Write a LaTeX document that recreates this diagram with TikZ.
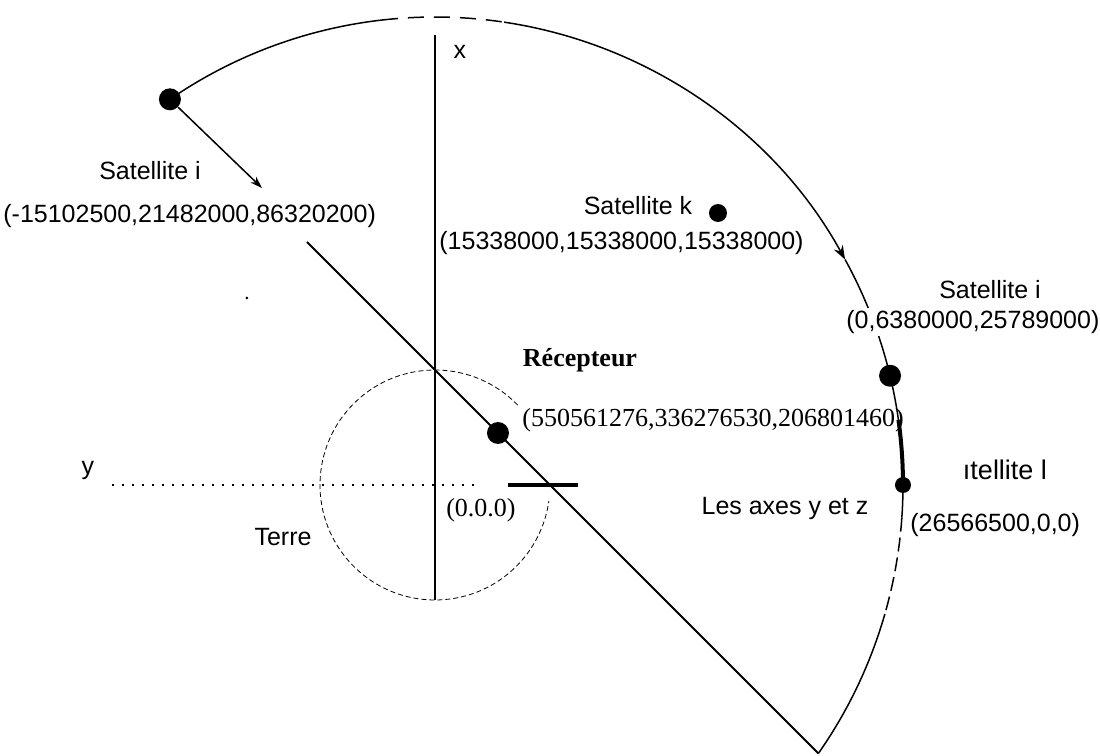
\documentclass[tikz,border=0pt]{standalone}
\usepackage{fontspec}
\setmainfont{Liberation Sans}
\newfontfamily\recfont{Liberation Serif}
\usetikzlibrary{positioning, arrows.meta}

\begin{document}
\begin{tikzpicture}[x=0.5pt, y=0.5pt,
    sat/.style={circle, fill=black, inner sep=0pt, minimum size=#1},
    lbl/.style={font=\fontsize{12.5}{14}\selectfont, inner sep=1pt},
    rlbl/.style={font=\recfont\fontsize{13}{15}\selectfont, inner sep=1pt},
    orbit/.style={line width=0.75pt},
    earth/.style={line width=0.4pt, dash pattern=on 2.5pt off 1.5pt},
    arr/.style={-{Stealth[length=6pt, width=4pt]}, line width=0.75pt},
]
\useasboundingbox (-435,-271) rectangle (665,485);
\coordinate (O) at (0,0);
\coordinate (xtop) at (0,450);
\coordinate (xbot) at (0,-115);
\coordinate (yleft) at (-323,0);
\coordinate (yright) at (40,0);
\coordinate (dtop) at (-128,243);
\coordinate (V) at (-35:468);
\coordinate (tl) at (73,0);
\coordinate (tr) at (143,0);
\coordinate (ai) at (-173,297);

\draw[earth] (44:115) arc[start angle=44, end angle=352, radius=115];
\draw[line width=0.8pt] (xtop) -- (xbot);
\draw[line width=0.6pt, dash pattern=on 1pt off 4pt] (yleft) -- (yright);
\draw[line width=1pt] (dtop) -- (V);
\draw[line width=2pt] (tl) -- (tr);

\draw[orbit] (124.5:468) arc[start angle=124.5, end angle=96.5, radius=468];
\draw[orbit, dash pattern=on 8pt off 5pt] (96.5:468) arc[start angle=96.5, end angle=81.5, radius=468];
\draw[orbit, -{Stealth[length=7pt, width=5pt]}] (81.5:468) arc[start angle=81.5, end angle=28.8, radius=468];
\draw[orbit] (28.8:468) arc[start angle=28.8, end angle=8, radius=468];
\draw[line width=2pt] (8:468) arc[start angle=8, end angle=0, radius=468];
\draw[orbit] (0:468) arc[start angle=0, end angle=-4, radius=468];
\draw[orbit, dash pattern=on 7pt off 3pt] (-4:468) arc[start angle=-4, end angle=-16, radius=468];
\draw[orbit] (-16:468) arc[start angle=-16, end angle=-35, radius=468];

\node[sat=11pt] (sati) at (124.5:468) {};
\node[sat=9pt] (satk) at (283,272) {};
\node[sat=11pt] (satj) at (13.5:468) {};
\node[sat=8pt] (satl) at (0:468) {};
\node[sat=11pt] (rec) at (63,52) {};
\node[sat=1.5pt] (speck) at (-188,187) {};
\draw[arr] (sati) -- (ai);

\node[lbl] (xlbl) at (25,433) {x};
\node[lbl] (ylbl) at (-347,15) {y};
\node[lbl] (nsati) at (-285,314) {Satellite i};
\node[lbl, anchor=west] (csati) at (-434,269) {(-15102500,21482000,86320200)};
\node[lbl] (nsatk) at (203,279) {Satellite k};
\node[lbl, anchor=west] (csatk) at (2,242) {(15338000,15338000,15338000)};
\node[lbl] (nsatj) at (555,195) {Satellite i};
\node[lbl, fill=white, anchor=west] (csatj) at (409,163) {(0,6380000,25789000)};
\node[rlbl, font=\recfont\bfseries\fontsize{13}{15}\selectfont] (nrec) at (145,125) {Récepteur};
\node[rlbl, anchor=west] (crec) at (85,65) {(550561276,336276530,206801460)};
\node[lbl, font=\fontsize{13.5}{15}\selectfont] (nsatl) at (570,15) {ıtellite l};
\node[lbl, anchor=west] (csatl) at (473,-40) {(26566500,0,0)};
\node[rlbl] (corig) at (46,-25) {(0.0.0)};
\node[lbl] (axes) at (350,-23) {Les axes y et z};
\node[lbl] (terre) at (-152,-52) {Terre};
\end{tikzpicture}
\end{document}
